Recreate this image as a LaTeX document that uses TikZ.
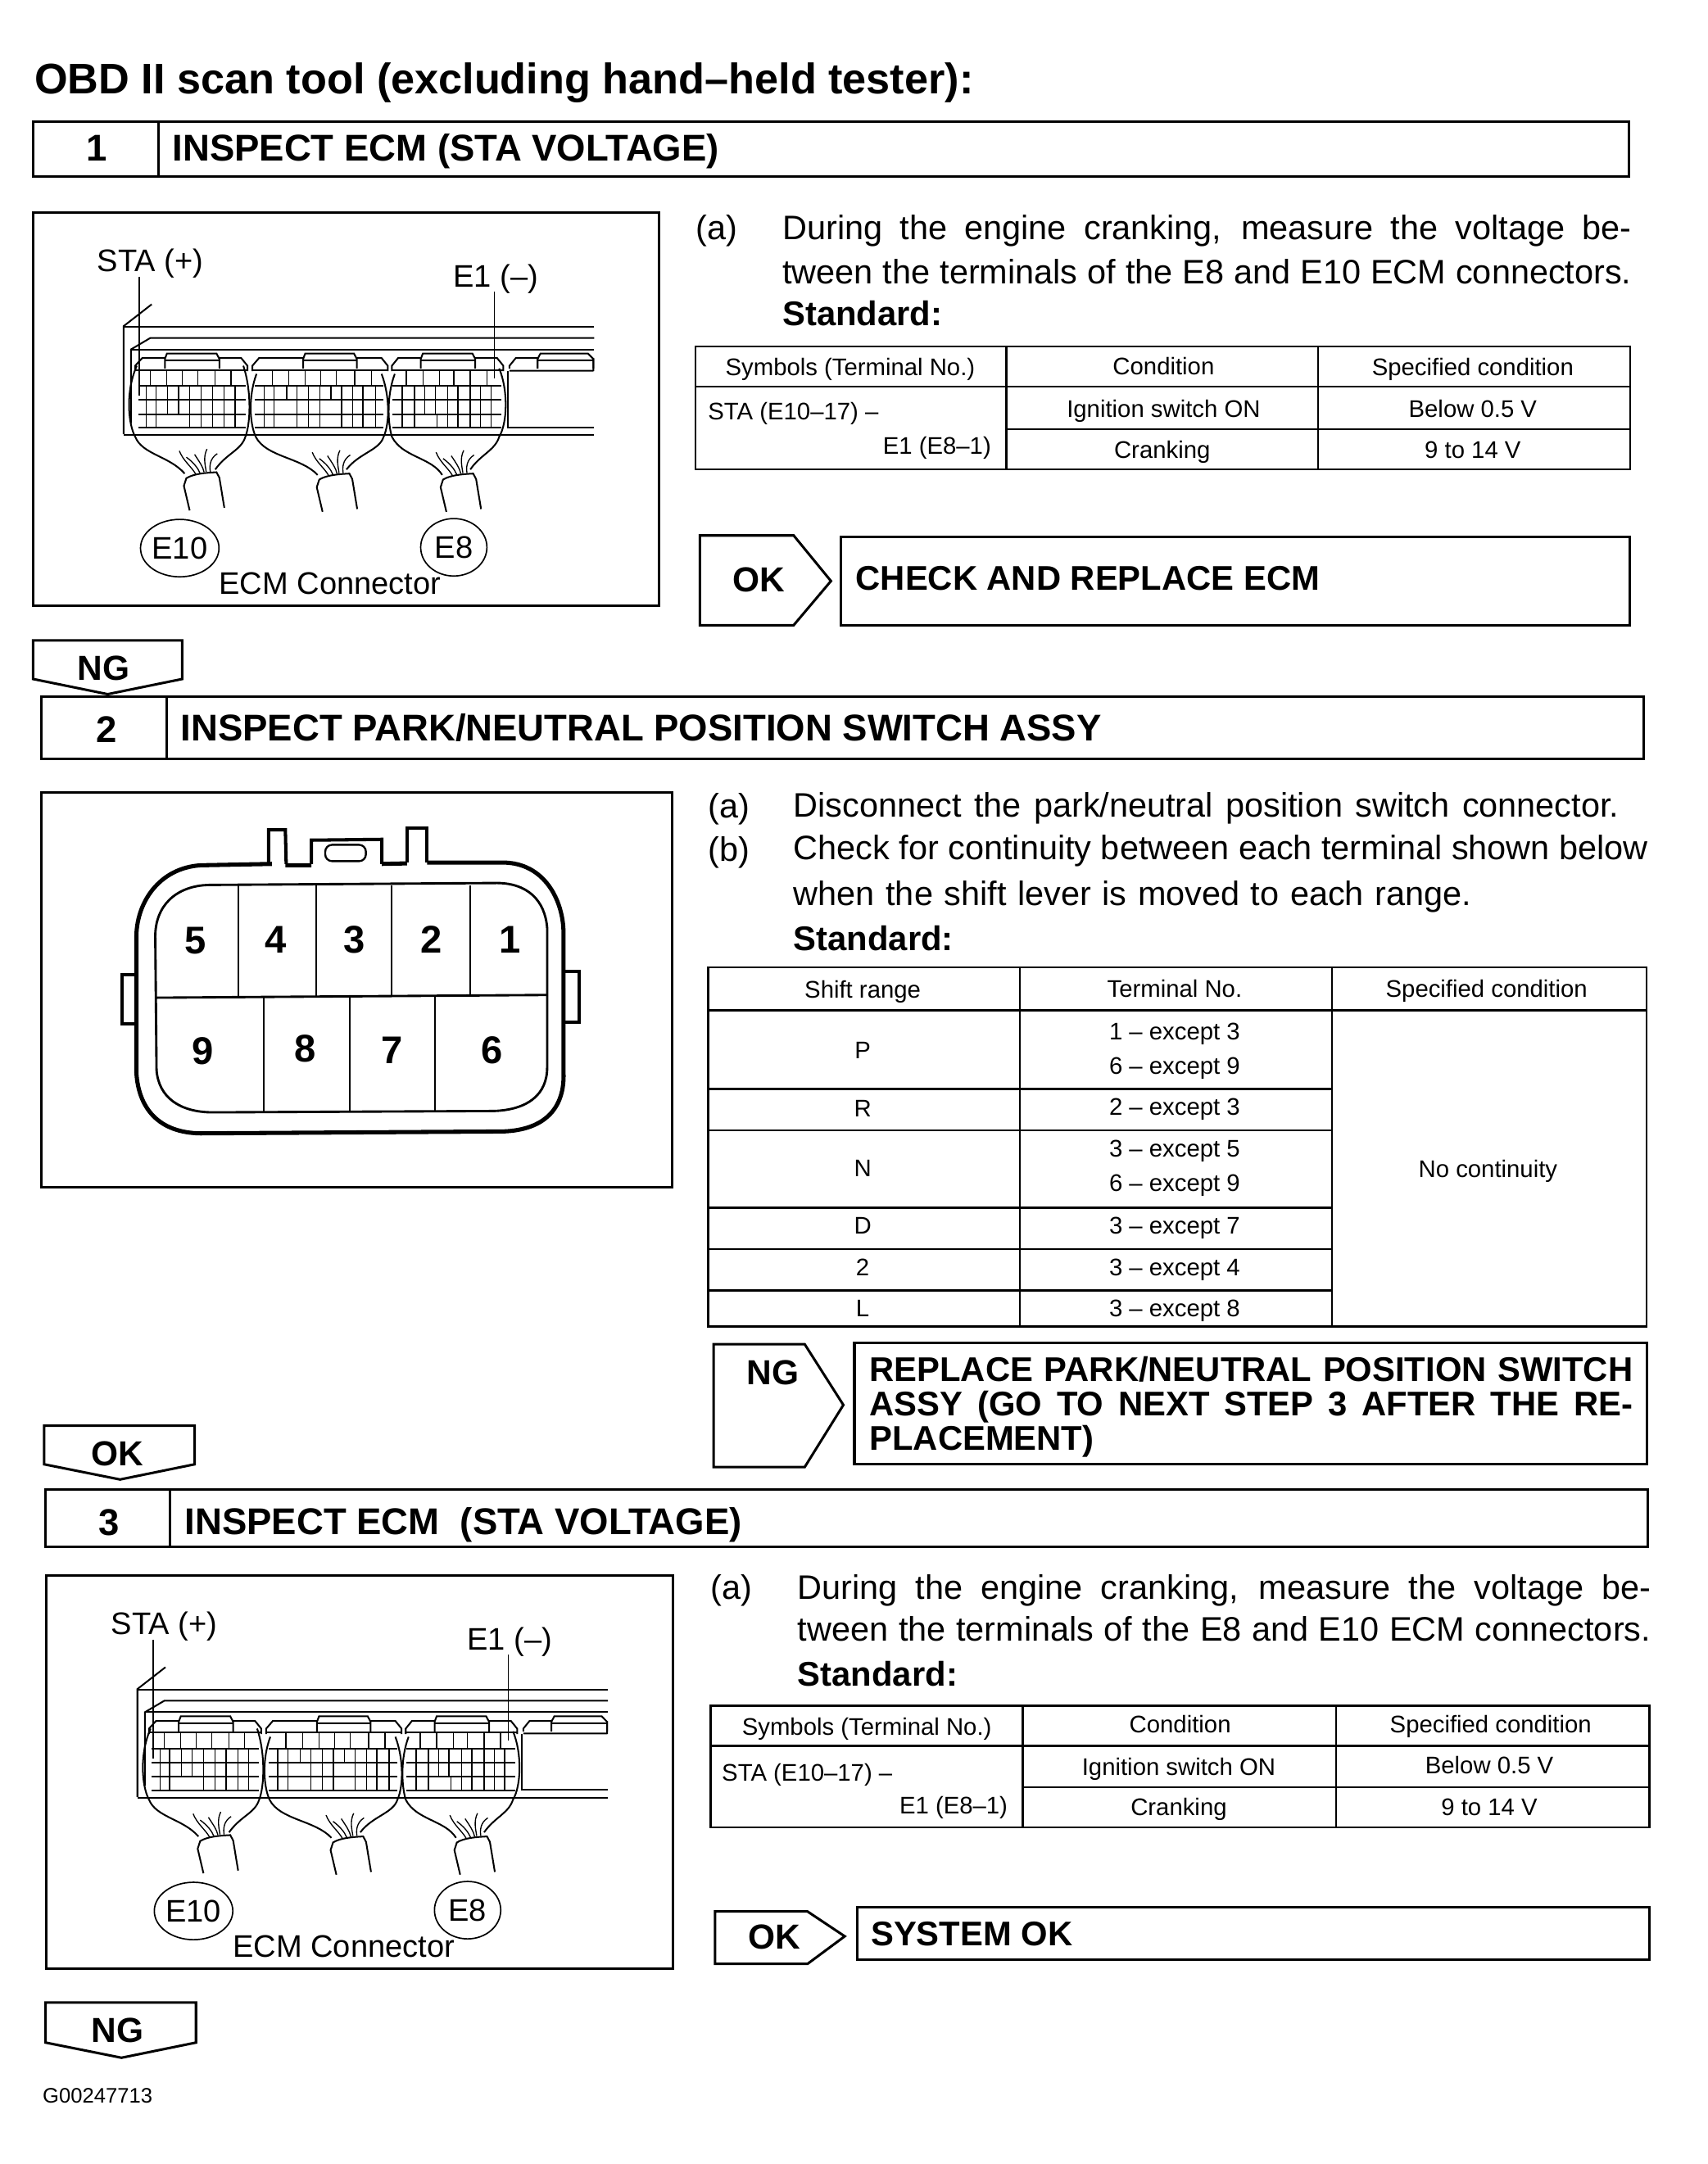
\documentclass[tikz,border=0pt]{standalone}
\usepackage{fontspec}
\usetikzlibrary{shapes.geometric}
\setmainfont{Liberation Sans}
\newcommand\fsz[1]{\fontsize{#1}{#1}\selectfont}
\newcommand\jln[2]{\makebox[\dimexpr #1pt/2\relax][s]{#2}}
\tikzset{
  lb/.style={inner sep=0pt,outer sep=0pt},
  body/.style={lb,font=\fsz{12.3},text height=8.8pt,text depth=0pt},
  bbody/.style={lb,font=\fsz{12.4}\bfseries,text height=8.9pt,text depth=0pt},
  head/.style={lb,font=\fsz{13.5}\bfseries,text height=9.7pt,text depth=0pt},
  tag/.style={lb,font=\fsz{12.6}\bfseries,text height=9pt,text depth=0pt},
  cell/.style={lb,font=\fsz{8.7},text height=6.3pt,text depth=0pt},
  fig/.style={lb,font=\fsz{11.3},text height=8.1pt,text depth=0pt},
  pinno/.style={lb,font=\fsz{14}\bfseries,text height=10pt,text depth=0pt},
  framebox/.style={draw=black,line width=0.9pt,line join=miter},
  tline/.style={draw=black,line width=0.75pt},
  ecmthick/.style={draw=black,line width=0.6pt},
  ecmthin/.style={draw=black,line width=0.4pt},
  connoval/.style={fig,draw=black,line width=0.5pt,ellipse,minimum width=24pt,minimum height=20.8pt},
}
\newcommand\gridrow[3]{\foreach \xx in {#3} \draw[ecmthin] (\xx,#1) -- (\xx,#2);}
\newcommand\ecmunit[6]{% left, left shoulder, tab left, tab right, right shoulder, right
  \draw[ecmthick] (#1,610) -- (#1,590) -- (#2,562) -- (#3,562) (#4,562) -- (#5,562) -- (#6,590) -- (#6,610);
  \draw[ecmthick] (#3,600) -- (#3,565) -- ({#3+5},545) -- ({#4-7},545) -- (#4,565) -- (#4,600) (#3,570) -- (#4,570);
  \draw[ecmthick] (#1,605) -- (#6,605);
}
\newcommand\ecmfig[3]{%
 \begin{scope}[shift={(17.8+#2,148.3+#3)},x=0.1495pt,y=-0.0989pt]
  \draw[framebox] (20,30) rectangle (1538,1470);
  % housing
  \draw[ecmthick] (240,840) -- (240,445) -- (308,365);
  \draw[ecmthick] (240,448) -- (1380,448);
  \draw[ecmthick] (258,800) -- (258,530) -- (305,488) -- (1380,488);
  \draw[ecmthick] (258,530) -- (1380,530);
  \draw[ecmthick] (240,843) -- (1380,843);
  \draw[ecmthick] (1170,815) -- (1380,815);
  \draw[ecmthick] (1172,610) -- (1172,815);
  % connector heads
  \ecmunit{268}{285}{340}{472}{525}{540}
  \ecmunit{552}{568}{675}{805}{865}{880}
  \ecmunit{890}{905}{960}{1092}{1145}{1160}
  \draw[ecmthick] (1175,600) -- (1175,590) -- (1190,562) -- (1245,562) (1378,562) -- (1378,610) (1175,608) -- (1378,608);
  \draw[ecmthick] (1243,600) -- (1243,565) -- (1250,545) -- (1365,545) -- (1378,565) -- (1378,600) (1243,570) -- (1378,570);
  % grids
  \foreach \yy in {663,715,767,817} {
    \draw[ecmthick] (275,\yy) -- (535,\yy);
    \draw[ecmthick] (558,\yy) -- (870,\yy);
    \draw[ecmthick] (892,\yy) -- (1155,\yy);
  }
  \gridrow{605}{663}{305,345,382,420,462,500}
  \gridrow{663}{767}{295,318,347,373,400,428,455,483,510}
  \gridrow{767}{817}{295,318,400,428,455,483,510}
  \gridrow{605}{663}{600,640,680,718,755,800,840}
  \gridrow{663}{715}{580,605,635,660,688,715,742,768,795,820,850}
  \gridrow{715}{817}{580,605,660,688,715,768,795,820,850}
  \gridrow{605}{663}{925,965,1005,1040,1080,1120}
  \gridrow{663}{767}{915,945,970,995,1025,1050,1080,1105,1130}
  \gridrow{767}{817}{915,945,1000,1025,1050,1080,1105,1130}
  % wire covers
  \draw[ecmthick] (272,590) .. controls (245,680) and (250,800) .. (268,850) .. controls (285,915) and (350,920) .. (388,985);
  \draw[ecmthick] (530,590) .. controls (550,680) and (548,800) .. (535,850) .. controls (525,900) and (490,910) .. (462,970);
  \draw[ecmthick] (562,620) .. controls (542,700) and (545,800) .. (560,850) .. controls (585,925) and (670,925) .. (710,990);
  \draw[ecmthick] (865,620) .. controls (885,700) and (885,800) .. (870,850) .. controls (860,900) and (810,910) .. (780,970);
  \draw[ecmthick] (897,620) .. controls (877,700) and (880,800) .. (890,850) .. controls (915,925) and (985,925) .. (1012,990);
  \draw[ecmthick] (1150,600) .. controls (1172,680) and (1170,800) .. (1150,850) .. controls (1140,900) and (1105,915) .. (1080,970);
  % sheaths and wires
  \foreach \dx/\dy in {0/0,322/5,622/5} {
    \begin{scope}[shift={(\dx,\dy)}]
      \draw[ecmthick] (400,1120) -- (386,1030) -- (392,1002) .. controls (410,985) and (440,982) .. (465,980) -- (472,1000) -- (484,1110);
      \draw[ecmthin] (375,902) .. controls (385,940) and (405,960) .. (415,988);
      \draw[ecmthin] (392,925) .. controls (410,945) and (420,965) .. (425,983);
      \draw[ecmthin] (412,915) .. controls (425,945) and (432,960) .. (435,980);
      \draw[ecmthin] (442,895) .. controls (432,925) and (438,955) .. (440,978);
      \draw[ecmthin] (467,912) .. controls (448,930) and (448,960) .. (450,978);
    \end{scope}
  }
  % labels
  \node[fig] (#1sta) at (305,205) {STA (+)};
  \node[fig] (#1eone) at (1142,260) {E1 (--)};
  \coordinate (#1staend) at (278,700);
  \coordinate (#1eoneend) at (1138,635);
  \draw[ecmthin] (#1staend |- #1sta.south) ++(0,18) -- (#1staend);
  \draw[ecmthin] (#1eoneend |- #1eone.south) ++(0,18) -- (#1eoneend);
  \node[connoval] (#1eten) at (376,1258) {E10};
  \node[connoval] (#1eeight) at (1040,1255) {E8};
  \node[fig] (#1name) at (740,1387) {ECM Connector};
 \end{scope}
}
\begin{document}
\begin{tikzpicture}[x=0.5pt,y=-0.5pt]
\path[fill=white,use as bounding box] (0,0) rectangle (1237,1568);

% title
\node[lb,anchor=west,font=\fsz{15.5}\bfseries,text height=11.1pt,text depth=0pt] (title) at (25,57) {OBD II scan tool (excluding hand--held tester):};

% ---------- step 1
\draw[framebox] (24,88) rectangle (1180,128) (115,88) -- (115,128);
\node[head] (n1) at (70,107) {1};
\node[head,anchor=west] (h1) at (125,107) {INSPECT ECM (STA VOLTAGE)};
\ecmfig{a}{0}{0}
\node[body,anchor=west] (a1) at (504,165) {(a)};
\node[body,anchor=west] (a1l1) at (567,165) {\jln{615}{During the engine cranking, measure the voltage be-}};
\node[body,anchor=west] (a1l2) at (567,197) {\jln{615}{tween the terminals of the E8 and E10 ECM connectors.}};
\node[bbody,anchor=west] (a1s) at (567,227) {Standard:};
% table 1
\draw[tline] (504,251) rectangle (1181,340);
\draw[tline] (504,280) -- (1181,280) (729,311) -- (1181,311) (729,251) -- (729,340) (955,251) -- (955,340);
\node[cell] (t1a) at (616,266) {Symbols (Terminal No.)};
\node[cell] (t1b) at (843,265) {Condition};
\node[cell] (t1c) at (1067,266) {Specified condition};
\node[cell,anchor=west] (t1d) at (513,298) {STA (E10--17) --};
\node[cell,anchor=east] (t1e) at (718,323) {E1 (E8--1)};
\node[cell] (t1f) at (843,296) {Ignition switch ON};
\node[cell] (t1g) at (1067,296) {Below 0.5 V};
\node[cell] (t1h) at (842,326) {Cranking};
\node[cell] (t1i) at (1067,326) {9 to 14 V};
% result 1
\draw[framebox] (507,388) -- (575,388) -- (602,421) -- (575,453) -- (507,453) -- cycle;
\node[tag] (ok1) at (550,420) {OK};
\draw[framebox] (609,389) rectangle (1181,453);
\node[bbody,anchor=west] (r1) at (620,419) {CHECK AND REPLACE ECM};
\draw[framebox] (24,464) -- (132,464) -- (132,492) -- (78,503) -- (24,492) -- cycle;
\node[tag] (ng1) at (75,484) {NG};

% ---------- step 2
\draw[framebox] (30,505) rectangle (1191,550) (121,505) -- (121,550);
\node[head] (n2) at (77,528) {2};
\node[head,anchor=west] (h2) at (131,527) {INSPECT PARK/NEUTRAL POSITION SWITCH ASSY};
\draw[framebox] (30,574) rectangle (487,860);
\begin{scope}[shift={(23.73,569.6)},x=0.152pt,y=-0.0989pt]
  \draw[draw=black,line width=1.5pt] (570,285) -- (400,290) .. controls (300,300) and (245,430) .. (247,560) -- (247,1050) .. controls (252,1180) and (300,1270) .. (400,1272) -- (1120,1265) .. controls (1220,1260) and (1268,1180) .. (1265,1050) -- (1265,540) .. controls (1265,420) and (1220,280) .. (1120,280) -- (940,280);
  \draw[draw=black,line width=1.5pt] (602,290) -- (664,290) (832,285) -- (892,283);
  \draw[draw=black,line width=0.85pt] (420,362) .. controls (340,365) and (292,440) .. (292,550) -- (295,1040) .. controls (300,1140) and (350,1195) .. (430,1195) -- (1100,1190) .. controls (1180,1185) and (1226,1130) .. (1226,1030) -- (1226,520) .. controls (1221,420) and (1180,352) .. (1100,355) -- cycle;
  \draw[draw=black,line width=0.85pt] (295,775) -- (1226,765);
  \foreach \xx/\yy in {490/770,675/768,855/766,1042/764} \draw[draw=black,line width=0.65pt] (\xx,365) -- (\xx,\yy);
  \foreach \xx/\yy in {550/773,755/771,958/769} \draw[draw=black,line width=0.65pt] (\xx,\yy) -- (\xx,1192);
  \draw[draw=black,line width=1.2pt] (562,285) -- (562,160) -- (602,160) -- (604,285);
  \draw[draw=black,line width=1.2pt] (892,280) -- (892,155) -- (940,155) -- (940,280);
  \draw[draw=black,line width=1.2pt] (664,285) -- (664,198) -- (832,195) -- (832,285);
  \draw[draw=black,line width=0.7pt,rounded corners=2.5pt] (697,215) rectangle (794,275);
  \draw[draw=black,line width=1.2pt] (247,690) -- (213,690) -- (213,872) -- (247,872);
  \draw[draw=black,line width=1.2pt] (1265,680) -- (1303,680) -- (1303,865) -- (1265,865);
  \node[pinno] (p5) at (388,565) {5};
  \node[pinno] (p4) at (580,562) {4};
  \node[pinno] (p3) at (766,562) {3};
  \node[pinno] (p2) at (950,562) {2};
  \node[pinno] (p1) at (1137,562) {1};
  \node[pinno] (p9) at (406,968) {9};
  \node[pinno] (p8) at (650,960) {8};
  \node[pinno] (p7) at (856,965) {7};
  \node[pinno] (p6) at (1094,965) {6};
\end{scope}
\node[body,anchor=west] (b1) at (513,584) {(a)};
\node[body,anchor=west] (b1t) at (575,583) {\jln{598}{Disconnect the park/neutral position switch connector.}};
\node[body,anchor=west] (b2) at (513,615) {(b)};
\node[body,anchor=west] (b2t) at (575,614) {\jln{619}{Check for continuity between each terminal shown below}};
\node[body,anchor=west] (b3t) at (575,647) {\jln{491}{when the shift lever is moved to each range.}};
\node[bbody,anchor=west] (b4t) at (575,680) {Standard:};
% table 2
\draw[tline] (513,701) rectangle (1193,961);
\draw[tline] (513,732) -- (1193,732);
\foreach \yy in {789,819,875,905,935} \draw[tline] (513,\yy) -- (965,\yy);
\draw[tline] (739,701) -- (739,961) (965,701) -- (965,961);
\node[cell] (t2a) at (625,717) {Shift range};
\node[cell] (t2b) at (851,716) {Terminal No.};
\node[cell] (t2c) at (1077,716) {Specified condition};
\node[cell] (t2p) at (625,761) {P};
\node[cell] (t2p1) at (851,747) {1 -- except 3};
\node[cell] (t2p2) at (851,772) {6 -- except 9};
\node[cell] (t2r) at (625,803) {R};
\node[cell] (t2r1) at (851,802) {2 -- except 3};
\node[cell] (t2n) at (625,846) {N};
\node[cell] (t2n1) at (851,832) {3 -- except 5};
\node[cell] (t2n2) at (851,857) {6 -- except 9};
\node[cell] (t2d) at (625,888) {D};
\node[cell] (t2d1) at (851,888) {3 -- except 7};
\node[cell] (t2s) at (625,918) {2};
\node[cell] (t2s1) at (851,918) {3 -- except 4};
\node[cell] (t2l) at (625,948) {L};
\node[cell] (t2l1) at (851,948) {3 -- except 8};
\node[cell] (t2nc) at (1078,847) {No continuity};
% result 2
\draw[framebox] (517,974) -- (583,974) -- (611,1018) -- (583,1063) -- (517,1063) -- cycle;
\node[tag] (ng2) at (560,994) {NG};
\draw[framebox] (619,973) rectangle (1193,1061);
\node[bbody,anchor=west] (r2a) at (630,992) {\jln{553}{REPLACE PARK/NEUTRAL POSITION SWITCH}};
\node[bbody,anchor=west] (r2b) at (630,1017) {\jln{553}{ASSY (GO TO NEXT STEP 3 AFTER THE RE-}};
\node[bbody,anchor=west] (r2c) at (630,1042) {PLACEMENT)};
\draw[framebox] (32,1033) -- (141,1033) -- (141,1061) -- (87,1072) -- (32,1061) -- cycle;
\node[tag] (ok2) at (85,1053) {OK};

% ---------- step 3
\draw[framebox] (33,1079) rectangle (1194,1121) (123,1079) -- (123,1121);
\node[head] (n3) at (79,1103) {3};
\node[head,anchor=west] (h3) at (134,1102) {INSPECT ECM\ \ (STA VOLTAGE)};
\ecmfig{c}{10}{987.5}
\node[body,anchor=west] (c1) at (515,1150) {(a)};
\node[body,anchor=west] (c1l1) at (578,1150) {\jln{618}{During the engine cranking, measure the voltage be-}};
\node[body,anchor=west] (c1l2) at (578,1180) {\jln{618}{tween the terminals of the E8 and E10 ECM connectors.}};
\node[bbody,anchor=west] (c1s) at (578,1213) {Standard:};
% table 3
\draw[tline] (515,1236) rectangle (1195,1324);
\draw[tline] (515,1265) -- (1195,1265) (741,1295) -- (1195,1295) (741,1236) -- (741,1324) (968,1236) -- (968,1324);
\node[cell] (t3a) at (628,1251) {Symbols (Terminal No.)};
\node[cell] (t3b) at (855,1249) {Condition};
\node[cell] (t3c) at (1080,1249) {Specified condition};
\node[cell,anchor=west] (t3d) at (523,1284) {STA (E10--17) --};
\node[cell,anchor=east] (t3e) at (730,1308) {E1 (E8--1)};
\node[cell] (t3f) at (854,1280) {Ignition switch ON};
\node[cell] (t3g) at (1079,1279) {Below 0.5 V};
\node[cell] (t3h) at (854,1309) {Cranking};
\node[cell] (t3i) at (1079,1309) {9 to 14 V};
% result 3
\draw[framebox] (518,1385) -- (585,1385) -- (612,1403) -- (585,1423) -- (518,1423) -- cycle;
\node[tag] (ok3) at (561,1403) {OK};
\draw[framebox] (621,1382) rectangle (1195,1420);
\node[bbody,anchor=west] (r3) at (631,1401) {SYSTEM OK};
\draw[framebox] (33,1451) -- (142,1451) -- (142,1480) -- (88,1491) -- (33,1480) -- cycle;
\node[tag] (ng3) at (85,1471) {NG};

\node[lb,anchor=west,font=\fsz{7.6},text height=5.5pt,text depth=0pt] (code) at (31,1518) {G00247713};
\end{tikzpicture}
\end{document}
